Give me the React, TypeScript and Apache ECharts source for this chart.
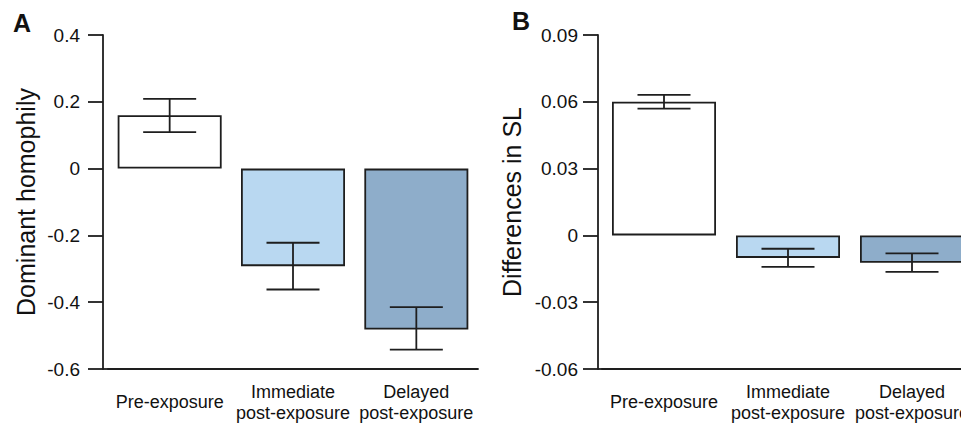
import React, { useEffect, useRef } from "react";
import * as echarts from "echarts";

const categories = ["Pre-exposure", "Immediate\npost-exposure", "Delayed\npost-exposure"];
const barColors = ["#ffffff", "#b9d8f1", "#8eadca"];

const homophilyMeans = [0.16, -0.292, -0.482];
const homophilyLow = [0.109, -0.362, -0.542];
const homophilyHigh = [0.209, -0.222, -0.415];

const slMeans = [0.06, -0.0101, -0.0123];
const slLow = [0.0569, -0.0141, -0.0164];
const slHigh = [0.0631, -0.006, -0.0081];

const FONT = '"Liberation Sans", Arial, Helvetica, sans-serif';
const INK = "#1e1e1e";

const gridA = { left: 108, top: 35, width: 370, height: 334, outerBoundsMode: "none", containLabel: false };
const gridB = { left: 602, top: 35, width: 372, height: 334, outerBoundsMode: "none", containLabel: false };

export default function App() {
  const ref = useRef<HTMLDivElement>(null);

  useEffect(() => {
    if (!ref.current) return;
    const chart = echarts.init(ref.current, null, { renderer: "svg" });

    const errorSeries = (axisIndex: number, low: number[], high: number[]) => ({
      type: "custom",
      xAxisIndex: axisIndex,
      yAxisIndex: axisIndex,
      z: 5,
      data: low.map((l, i) => [i, l, high[i]]),
      renderItem: (params: any, api: any) => {
        const i = api.value(0);
        const p1 = api.coord([i, api.value(1)]);
        const p2 = api.coord([i, api.value(2)]);
        const hw = 26.5;
        const style = { stroke: INK, lineWidth: 1.8, fill: "none" };
        return {
          type: "group",
          children: [
            { type: "line", shape: { x1: p1[0], y1: p1[1], x2: p2[0], y2: p2[1] }, style },
            { type: "line", shape: { x1: p1[0] - hw, y1: p1[1], x2: p1[0] + hw, y2: p1[1] }, style },
            { type: "line", shape: { x1: p2[0] - hw, y1: p2[1], x2: p2[0] + hw, y2: p2[1] }, style },
          ],
        };
      },
    });

    const barSeries = (axisIndex: number, values: number[]) => ({
      type: "bar",
      xAxisIndex: axisIndex,
      yAxisIndex: axisIndex,
      barWidth: 104,
      data: values.map((v, i) => ({
        value: v,
        itemStyle: { color: barColors[i], borderColor: INK, borderWidth: 1.8 },
      })),
    });

    const xAxis = (gridIndex: number) => ({
      type: "category",
      gridIndex,
      data: categories,
      position: "bottom",
      axisLine: { onZero: false, lineStyle: { color: INK, width: 1.8 } },
      axisTick: { show: false },
      axisLabel: {
        fontFamily: FONT,
        fontSize: 18,
        color: "#111",
        lineHeight: 21,
        verticalAlign: "middle",
        margin: 33,
        interval: 0,
      },
      splitLine: { show: false },
    });

    const yAxis = (
      gridIndex: number,
      min: number,
      max: number,
      interval: number,
      digits: number,
      name: string,
      offset: number,
      labelMargin: number,
      nameGap: number
    ) => ({
      type: "value",
      gridIndex,
      min,
      max,
      interval,
      offset,
      name,
      nameLocation: "middle",
      nameGap,
      nameTextStyle: { fontFamily: FONT, fontSize: 25, color: "#111" },
      axisLine: { show: true, lineStyle: { color: INK, width: 1.8 } },
      axisTick: { show: true, length: 15, lineStyle: { color: INK, width: 1.8 } },
      axisLabel: {
        fontFamily: FONT,
        fontSize: 19,
        color: "#111",
        margin: labelMargin,
        formatter: (v: number) => (Math.abs(v) < 1e-9 ? "0" : v.toFixed(digits)),
      },
      splitLine: { show: false },
    });

    const gapLine = (x1: number, x2: number, y: number) => ({
      type: "line",
      shape: { x1, y1: y, x2, y2: y },
      style: { stroke: INK, lineWidth: 1.8 },
      z: 10,
    });

    chart.setOption({
      animation: false,
      backgroundColor: "#ffffff",
      grid: [gridA, gridB],
      xAxis: [xAxis(0), xAxis(1)],
      yAxis: [
        yAxis(0, -0.6, 0.4, 0.2, 1, "Dominant homophily", 5, 23, 65),
        yAxis(1, -0.06, 0.09, 0.03, 2, "Differences in SL", 4, 20, 74),
      ],
      series: [
        barSeries(0, homophilyMeans),
        errorSeries(0, homophilyLow, homophilyHigh),
        barSeries(1, slMeans),
        errorSeries(1, slLow, slHigh),
      ],
      graphic: [
        gapLine(gridA.left - 5, gridA.left, gridA.top + gridA.height),
        gapLine(gridB.left - 4, gridB.left, gridB.top + gridB.height),
        {
          type: "text",
          left: 13,
          top: 10,
          style: { text: "A", font: `bold 25px ${FONT}`, fill: "#111" },
        },
        {
          type: "text",
          left: 512,
          top: 8,
          style: { text: "B", font: `bold 25px ${FONT}`, fill: "#111" },
        },
      ],
    });

    return () => chart.dispose();
  }, []);

  return (
    <div
      ref={ref}
      style={{ position: "fixed", left: 0, top: 0, width: 961, height: 425, background: "#fff" }}
    />
  );
}
